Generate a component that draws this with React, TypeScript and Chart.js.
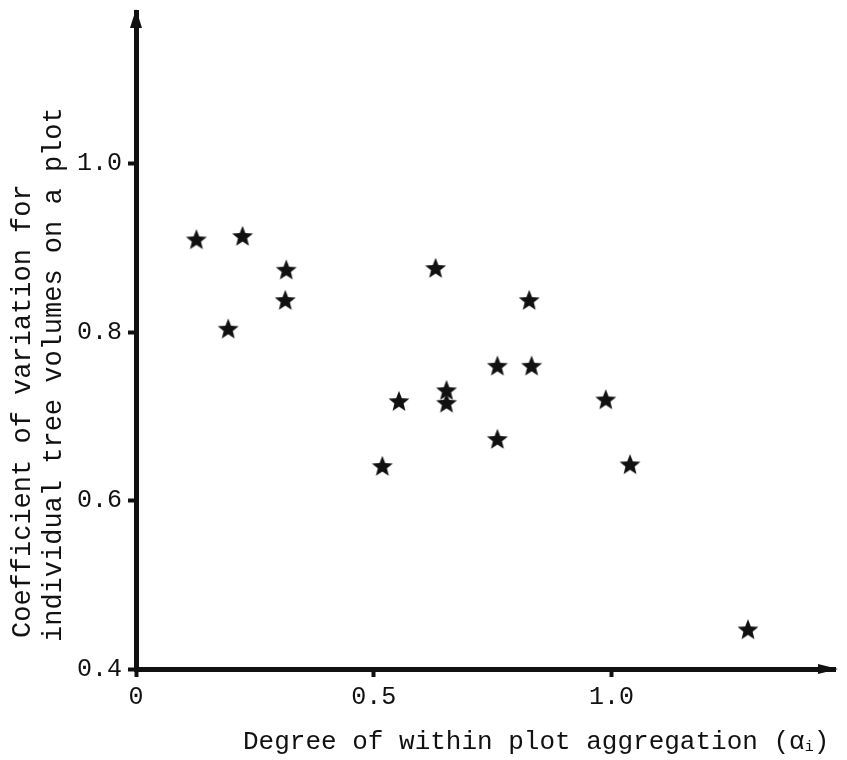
import React, { useEffect, useRef } from 'react';
import { Chart, registerables } from 'chart.js';

Chart.register(...registerables);

// ---- data ----
const xValues = [0.127, 0.224, 0.316, 0.314, 0.194, 0.630, 0.827, 0.760, 0.832, 0.653, 0.653, 0.553, 0.988, 0.760, 0.518, 1.039, 1.287];
const yValues = [0.910, 0.914, 0.874, 0.838, 0.804, 0.876, 0.838, 0.760, 0.760, 0.731, 0.716, 0.718, 0.720, 0.673, 0.641, 0.643, 0.447];

const xTickValues = [0, 0.5, 1.0];
const xTickLabels = ['0', '0.5', '1.0'];
const yTickValues = [0.4, 0.6, 0.8, 1.0];
const yTickLabels = ['0.4', '0.6', '0.8', '1.0'];

const xTitleMain = 'Degree of within plot aggregation (\u03b1';
const xTitleSub = 'i';
const xTitleEnd = ')';
const yTitleLines = ['Coefficient of variation for', 'individual tree volumes on a plot'];

const FONT = '"Liberation Mono", "DejaVu Sans Mono", monospace';
const INK = '#111111';

function makeStar(): HTMLCanvasElement {
  const c = document.createElement('canvas');
  c.width = 24;
  c.height = 24;
  const g = c.getContext('2d') as CanvasRenderingContext2D;
  g.fillStyle = INK;
  g.beginPath();
  const cx = 12, cy = 12.8, R = 11, r = 4.8;
  for (let k = 0; k < 10; k++) {
    const a = -Math.PI / 2 + (k * Math.PI) / 5;
    const rad = k % 2 === 0 ? R : r;
    const px = cx + rad * Math.cos(a);
    const py = cy + rad * Math.sin(a);
    if (k === 0) g.moveTo(px, py);
    else g.lineTo(px, py);
  }
  g.closePath();
  g.fill();
  return c;
}

const decorPlugin = {
  id: 'decor',
  afterDraw(chart: any) {
    const { ctx, chartArea } = chart;
    const { left, right, top, bottom } = chartArea;
    ctx.save();
    ctx.fillStyle = INK;
    // arrow heads
    ctx.beginPath();
    ctx.moveTo(left, top - 3);
    ctx.lineTo(left - 6, top + 16);
    ctx.lineTo(left + 6, top + 16);
    ctx.closePath();
    ctx.fill();
    ctx.beginPath();
    ctx.moveTo(right + 3, bottom);
    ctx.lineTo(right - 17, bottom - 5);
    ctx.lineTo(right - 17, bottom + 5);
    ctx.closePath();
    ctx.fill();

    // x title
    ctx.textAlign = 'left';
    ctx.textBaseline = 'alphabetic';
    ctx.font = `26px ${FONT}`;
    let x = 243;
    const y = 749;
    ctx.fillText(xTitleMain, x, y);
    x += ctx.measureText(xTitleMain).width;
    ctx.font = `15px ${FONT}`;
    ctx.fillText(xTitleSub, x, y + 2);
    x += ctx.measureText(xTitleSub).width;
    ctx.font = `26px ${FONT}`;
    ctx.fillText(xTitleEnd, x, y);

    // y title (two lines, reading bottom to top)
    ctx.font = `27px ${FONT}`;
    ctx.textBaseline = 'middle';
    const pos = [
      [23, 638],
      [54, 642],
    ];
    yTitleLines.forEach((line, i) => {
      ctx.save();
      ctx.translate(pos[i][0], pos[i][1]);
      ctx.rotate(-Math.PI / 2);
      ctx.fillText(line, 0, 0);
      ctx.restore();
    });
    ctx.restore();
  },
};

export default function App() {
  const ref = useRef<HTMLCanvasElement | null>(null);

  useEffect(() => {
    if (!ref.current) return;
    const star = makeStar();
    const chart = new Chart(ref.current, {
      type: 'scatter',
      data: {
        datasets: [
          {
            data: xValues.map((x, i) => ({ x, y: yValues[i] })),
            pointStyle: star as any,
            pointRadius: 11,
            backgroundColor: INK,
            borderColor: INK,
            showLine: false,
          },
        ],
      },
      options: {
        responsive: false,
        animation: false,
        devicePixelRatio: 1,
        layout: { padding: { top: 10, right: 9, left: 0, bottom: 0 } },
        plugins: { legend: { display: false }, tooltip: { enabled: false } },
        scales: {
          x: {
            type: 'linear',
            min: 0,
            max: 1.47,
            afterBuildTicks: (s: any) => {
              s.ticks = xTickValues.map((v) => ({ value: v }));
            },
            afterFit: (s: any) => {
              s.height = 91;
              s.paddingLeft = 0;
              s.paddingRight = 0;
            },
            ticks: {
              callback: (_v: any, i: number) => xTickLabels[i],
              font: { family: FONT, size: 25 },
              color: INK,
              padding: 5,
              maxRotation: 0,
              autoSkip: false,
            },
            grid: {
              display: true,
              drawOnChartArea: false,
              drawTicks: true,
              tickLength: 8,
              tickWidth: 4,
              tickColor: INK,
              color: INK,
            },
            border: { display: true, width: 5, color: INK },
          },
          y: {
            type: 'linear',
            min: 0.4,
            max: 1.18,
            afterBuildTicks: (s: any) => {
              s.ticks = yTickValues.map((v) => ({ value: v }));
            },
            afterFit: (s: any) => {
              s.width = 136;
              s.paddingTop = 0;
              s.paddingBottom = 0;
            },
            ticks: {
              callback: (_v: any, i: number) => yTickLabels[i],
              font: { family: FONT, size: 25 },
              color: INK,
              padding: 6,
              autoSkip: false,
            },
            grid: {
              display: true,
              drawOnChartArea: false,
              drawTicks: true,
              tickLength: 8,
              tickWidth: 4,
              tickColor: INK,
              color: INK,
            },
            border: { display: true, width: 5, color: INK },
          },
        },
      },
      plugins: [decorPlugin],
    } as any);
    return () => chart.destroy();
  }, []);

  return (
    <div style={{ position: 'absolute', left: 0, top: 0, width: 847, height: 760, background: '#fff' }}>
      <canvas ref={ref} width={847} height={760} />
    </div>
  );
}
